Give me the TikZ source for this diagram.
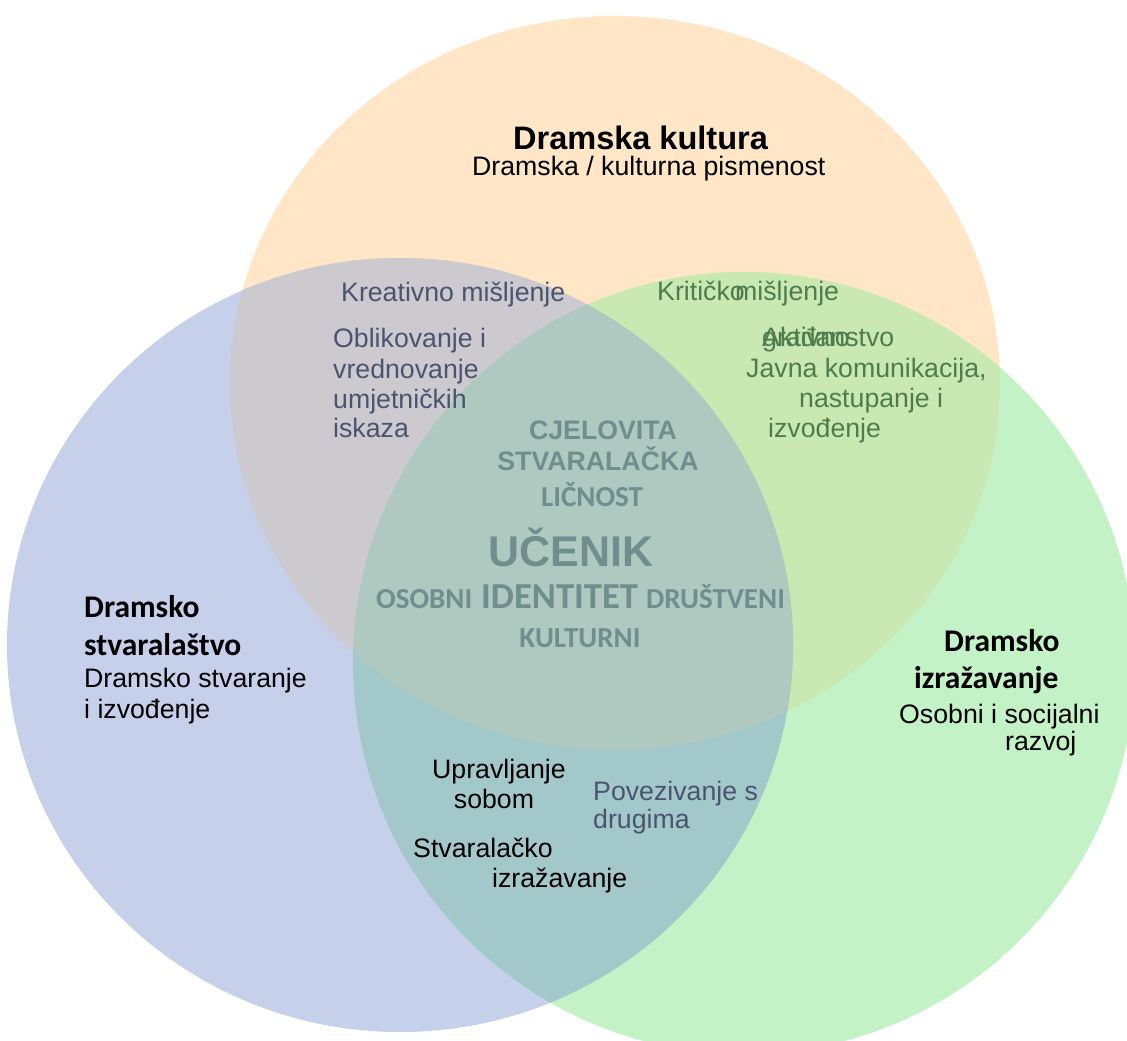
\documentclass[tikz,border=0pt]{standalone}
\usepackage{fontspec}
\setmainfont{Liberation Sans}
\newfontfamily\calibri{Carlito}
\definecolor{cO}{HTML}{FEE6C7}
\definecolor{cB}{HTML}{C7D0EA}
\definecolor{cG}{HTML}{C3F2C7}
\definecolor{cOB}{HTML}{CCC9CF}
\definecolor{cOG}{HTML}{CAE8B2}
\definecolor{cBG}{HTML}{A3C8C9}
\definecolor{cOBG}{HTML}{AFC9C0}
\definecolor{tslate}{HTML}{4A546F}
\definecolor{tgreen}{HTML}{4E7C4F}
\definecolor{tteal}{HTML}{718E8F}
\tikzset{
  txt/.style={font=\fontsize{26.7}{30}\selectfont, inner sep=0pt, anchor=base west},
  txtc/.style={txt, anchor=base},
  ttl/.style={font=\fontsize{32.5}{36}\selectfont\bfseries, inner sep=0pt, anchor=base west},
  cttl/.style={font=\calibri\fontsize{31.5}{36}\selectfont\bfseries, inner sep=0pt, anchor=base west},
  cen/.style={font=\fontsize{26.7}{30}\selectfont\bfseries, inner sep=0pt, anchor=base, text=tteal},
  cenc/.style={font=\calibri\fontsize{29}{32}\selectfont\bfseries, inner sep=0pt, anchor=base west, text=tteal},
}
\def\ellO{(615,383) ellipse [x radius=385pt, y radius=367pt]}
\def\ellB{(400,645) ellipse [x radius=393pt, y radius=387pt]}
\def\ellG{(744,663) ellipse [x radius=391pt, y radius=391pt]}
\begin{document}
\begin{tikzpicture}[x=1pt,y=-1pt]
\useasboundingbox (0,0) rectangle (1127,1041);
\fill[white] (0,0) rectangle (1127,1041);
\begin{scope}
\clip (0,0) rectangle (1127,1041);
% single regions
\fill[cO] \ellO;
\fill[cB] \ellB;
\fill[cG] \ellG;
% pairwise
\begin{scope}\clip \ellO; \fill[cOB] \ellB; \end{scope}
\begin{scope}\clip \ellO; \fill[cOG] \ellG; \end{scope}
\begin{scope}\clip \ellB; \fill[cBG] \ellG; \end{scope}
% triple
\begin{scope}\clip \ellO; \clip \ellB; \fill[cOBG] \ellG; \end{scope}
\end{scope}

% top circle labels
\node[ttl] (dk) at (513,149) {Dramska kultura};
\node[txt] (dkp) at (472,175) {Dramska / kulturna pismenost};

% left circle labels
\node[cttl] (ds1) at (84,617) {Dramsko};
\node[cttl] (ds2) at (84,655) {stvaralaštvo};
\node[txt] (ds3) at (84,687) {Dramsko stvaranje};
\node[txt] (ds4) at (84,718) {i izvođenje};

% right circle labels
\node[cttl] (di1) at (944,651) {Dramsko};
\node[cttl] (di2) at (914,688) {izražavanje};
\node[txt] (di3) at (899,723) {Osobni i socijalni};
\node[txt] (di4) at (1005,750) {razvoj};

% orange-blue overlap
\node[txt, text=tslate] (km) at (341,301) {Kreativno mišljenje};
\node[txt, text=tslate] (ob1) at (333,347) {Oblikovanje i};
\node[txt, text=tslate] (ob2) at (333,378) {vrednovanje};
\node[txt, text=tslate] (ob3) at (333,408) {umjetničkih};
\node[txt, text=tslate] (ob4) at (333,437) {iskaza};

% orange-green overlap
\node[txt, text=tgreen] (kr1) at (657,300) {Kritičko};
\node[txt, text=tgreen] (kr2) at (735,300) {mišljenje};
\node[txt, text=tgreen] (ag1) at (762,346) {Aktivno};
\node[txt, text=tgreen] (ag2) at (762,346) {građanstvo};
\node[txt, text=tgreen] (jk1) at (746,377) {Javna komunikacija,};
\node[txt, text=tgreen] (jk2) at (799,407) {nastupanje i};
\node[txt, text=tgreen] (jk3) at (768,437) {izvođenje};

% centre
\node[cen] (c1) at (603,439) {CJELOVITA};
\node[cen] (c2) at (598,470) {STVARALAČKA};
\node[cenc, anchor=base] (c3) at (592,506) {LIČNOST};
\node[cen, font=\fontsize{43}{46}\selectfont\bfseries] (c4) at (571,566) {UČENIK};
\node[cenc] (c5) at (376,608) {OSOBNI};
\node[cenc, font=\calibri\fontsize{36.6}{40}\selectfont\bfseries] (c6) at (481,608) {IDENTITET};
\node[cenc] (c7) at (646,608) {DRUŠTVENI};
\node[cenc, anchor=base] (c8) at (580,647) {KULTURNI};

% blue-green overlap
\node[txtc] (up1) at (499,778) {Upravljanje};
\node[txtc] (up2) at (494,808) {sobom};
\node[txt, text=tslate] (pd1) at (593,800) {Povezivanje s};
\node[txt, text=tslate] (pd2) at (593,828) {drugima};
\node[txt] (si1) at (413,857) {Stvaralačko};
\node[txt] (si2) at (492,887) {izražavanje};
\end{tikzpicture}
\end{document}
